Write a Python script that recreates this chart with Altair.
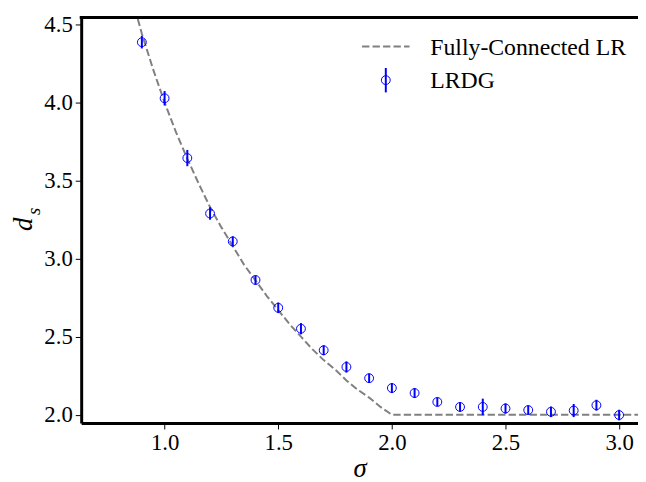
import altair as alt
import pandas as pd

# LRDG measurements
sigma = [0.9, 1.0, 1.1, 1.2, 1.3, 1.4, 1.5, 1.6, 1.7, 1.8, 1.9,
         2.0, 2.1, 2.2, 2.3, 2.4, 2.5, 2.6, 2.7, 2.8, 2.9, 3.0]
ds = [4.386, 4.027, 3.644, 3.289, 3.110, 2.863, 2.685, 2.551, 2.413, 2.306, 2.234,
      2.171, 2.139, 2.082, 2.050, 2.050, 2.040, 2.030, 2.019, 2.027, 2.061, 1.998]
err = [0.040, 0.046, 0.052, 0.040, 0.033, 0.030, 0.034, 0.036, 0.032, 0.036, 0.030,
       0.032, 0.032, 0.028, 0.030, 0.053, 0.033, 0.030, 0.034, 0.042, 0.035, 0.034]

# Fully-connected LR curve
sigma_line = [0.87, 0.9, 0.95, 1.0, 1.05, 1.1, 1.15, 1.2, 1.25, 1.3, 1.35, 1.4, 1.45,
              1.5, 1.55, 1.6, 1.65, 1.7, 1.75, 1.8, 1.85, 1.9, 1.95, 2.0, 3.1]
ds_line = [4.60, 4.44, 4.21, 4.00, 3.81, 3.64, 3.48, 3.33, 3.20, 3.08, 2.96, 2.86, 2.76,
           2.67, 2.58, 2.50, 2.42, 2.35, 2.29, 2.22, 2.16, 2.11, 2.05, 2.00, 2.00]

x_ticks = [1.0, 1.5, 2.0, 2.5, 3.0]
y_ticks = [2.0, 2.5, 3.0, 3.5, 4.0, 4.5]

W, H = 563, 410
FONT = "Liberation Serif"
BLUE = "#0000ff"
GRAY = "#808080"

pts = pd.DataFrame({"sigma": sigma, "ds": ds, "err": err})
line_df = pd.DataFrame({"sigma": sigma_line, "ds": ds_line})
one = pd.DataFrame({"k": [0]})

xs = alt.Scale(domain=[0.633, 3.083], nice=False, zero=False)
ys = alt.Scale(domain=[1.947, 4.544], nice=False, zero=False)

x_axis = alt.Axis(values=x_ticks, format=".1f", title=None, grid=False,
                  domainColor="black", domainWidth=3, tickColor="black",
                  tickWidth=1, tickSize=6, labelFont=FONT, labelFontSize=23,
                  labelColor="black", labelPadding=3)
y_axis = alt.Axis(values=y_ticks, format=".1f", title=None, grid=False,
                  domainColor="black", domainWidth=3, tickColor="black",
                  tickWidth=1, tickSize=6, labelFont=FONT, labelFontSize=23,
                  labelColor="black", labelPadding=3)

line = alt.Chart(line_df).mark_line(
    color=GRAY, strokeWidth=2, strokeDash=[7.4, 3.2], clip=True
).encode(
    x=alt.X("sigma:Q", scale=xs, axis=x_axis),
    y=alt.Y("ds:Q", scale=ys, axis=y_axis),
)

bars = alt.Chart(pts).transform_calculate(
    lo="datum.ds - datum.err", hi="datum.ds + datum.err"
).mark_rule(color=BLUE, strokeWidth=2).encode(
    x="sigma:Q", y="lo:Q", y2="hi:Q"
)

circles = alt.Chart(pts).mark_point(
    shape="circle", filled=False, color=BLUE, size=80, strokeWidth=1, opacity=1
).encode(x="sigma:Q", y="ds:Q")

top_border = alt.Chart(one).mark_rule(color="black", strokeWidth=3).encode(
    x=alt.value(-1.5), x2=alt.value(W), y=alt.value(0)
)

# legend
leg_line = alt.Chart(one).mark_rule(color=GRAY, strokeWidth=2, strokeDash=[7.4, 3.2]).encode(
    x=alt.value(284), x2=alt.value(332), y=alt.value(29.3)
)
leg_bar = alt.Chart(one).mark_rule(color=BLUE, strokeWidth=2).encode(
    x=alt.value(308), y=alt.value(51), y2=alt.value(75.7)
)
leg_pt = alt.Chart(one).mark_point(
    shape="circle", filled=False, color=BLUE, size=80, strokeWidth=1, opacity=1
).encode(x=alt.value(308), y=alt.value(63.3))
leg_t1 = alt.Chart(one).mark_text(
    text="Fully-Connected LR", font=FONT, fontSize=24, align="left",
    baseline="alphabetic", color="black"
).encode(x=alt.value(353), y=alt.value(37.5))
leg_t2 = alt.Chart(one).mark_text(
    text="LRDG", font=FONT, fontSize=24, align="left",
    baseline="alphabetic", color="black"
).encode(x=alt.value(353), y=alt.value(71.5))

# axis titles
ytitle_d = alt.Chart(one).mark_text(
    text="d", font=FONT, fontSize=27, fontStyle="italic", angle=270,
    align="center", baseline="middle", color="black"
).encode(x=alt.value(-58), y=alt.value(209))
ytitle_s = alt.Chart(one).mark_text(
    text="s", font=FONT, fontSize=19, fontStyle="italic", angle=270,
    align="center", baseline="middle", color="black"
).encode(x=alt.value(-48), y=alt.value(196))
xtitle = alt.Chart(one).mark_text(
    text="σ", font=FONT, fontSize=27, fontStyle="italic",
    align="center", baseline="alphabetic", color="black"
).encode(x=alt.value(282), y=alt.value(465))

chart = alt.layer(
    line, bars, circles, top_border, leg_line, leg_bar, leg_pt, leg_t1, leg_t2,
    ytitle_d, ytitle_s, xtitle
).properties(
    width=W, height=H,
    padding={"left": 74, "top": 7, "right": 0, "bottom": 57},
    autosize=alt.AutoSizeParams(type="none"),
    background="white",
).configure_view(strokeWidth=0)

chart.save("out.html", embed_options={"renderer": "svg", "actions": False})
